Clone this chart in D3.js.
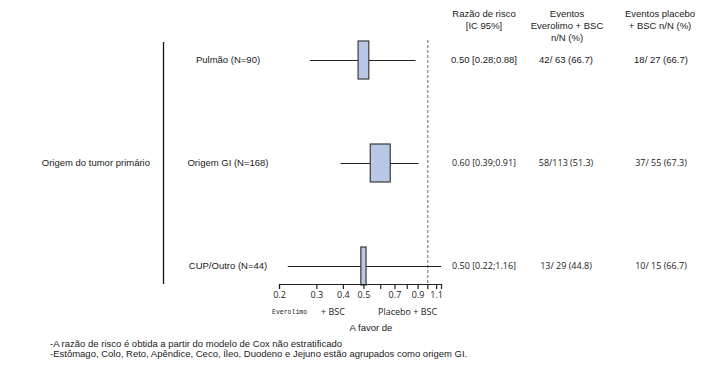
<!DOCTYPE html>
<html>
<head>
<meta charset="utf-8">
<script src="https://cdn.jsdelivr.net/npm/d3@7"></script>
<style>
  body { margin: 0; background: #fff; }
  text { font-family: "Liberation Sans", Arial, sans-serif; fill: #1a1a1a; }
</style>
</head>
<body>
<div id="chart"></div>
<script>
// data
const groups = ["Pulmão (N=90)", "Origem GI (N=168)", "CUP/Outro (N=44)"];
const groupN = [90, 168, 44];
const hazard = [0.50, 0.60, 0.50];
const ciLow = [0.28, 0.39, 0.22];
const ciHigh = [0.88, 0.91, 1.16];
const hrLabels = ["0.50 [0.28;0.88]", "0.60 [0.39;0.91]", "0.50 [0.22;1.16]"];
const everoLabels = ["42/ 63 (66.7)", "58/113 (51.3)", "13/ 29 (44.8)"];
const placeboLabels = ["18/ 27 (66.7)", "37/ 55 (67.3)", "10/ 15 (66.7)"];
const tickValues = [0.2, 0.3, 0.4, 0.5, 0.6, 0.7, 0.8, 0.9, 1.0, 1.1];
const tickLabels = [0.2, 0.3, 0.4, 0.5, 0.7, 0.9, 1.1];

const width = 704, height = 366;

const svg = d3.select("#chart").append("svg")
    .attr("width", width)
    .attr("height", height);

const x = d3.scaleLog().domain([0.2, 1.16]).range([279, 441]);
const y = d3.scalePoint().domain(groups).range([60, 266]);
const boxW = d3.scaleLinear().domain([0, 168]).range([0, 20]);
const boxH = 38;

const rows = groups.map((g, i) => ({
    name: g, n: groupN[i], hr: hazard[i], lo: ciLow[i], hi: ciHigh[i],
    hrText: hrLabels[i], evero: everoLabels[i], plac: placeboLabels[i], idx: i
}));

// left bracket line + group title
svg.append("line")
    .attr("x1", 163.5).attr("x2", 163.5)
    .attr("y1", 42).attr("y2", 284)
    .attr("stroke", "#111").attr("stroke-width", 1.3);

svg.append("text")
    .attr("x", 150).attr("y", 163)
    .attr("dy", "0.35em")
    .attr("text-anchor", "end")
    .style("font-size", "9.5px")
    .text("Origem do tumor primário");

// reference line at HR = 1
svg.append("line")
    .attr("x1", x(1) + 0.5).attr("x2", x(1) + 0.5)
    .attr("y1", 40).attr("y2", 284)
    .attr("stroke", "#666")
    .attr("stroke-dasharray", "3,2");

// column headers
const headers = [
    {cx: 484, lines: ["Razão de risco", "[IC 95%]"]},
    {cx: 567, lines: ["Eventos", "Everolimo + BSC", "n/N (%)"]},
    {cx: 660, lines: ["Eventos placebo", "+ BSC n/N (%)"]}
];
headers.forEach(h => {
    const t = svg.append("text")
        .attr("text-anchor", "middle")
        .style("font-size", "9.5px");
    h.lines.forEach((l, k) => {
        t.append("tspan").attr("x", h.cx).attr("y", 17 + k * 12).text(l);
    });
});

const row = svg.selectAll(".row")
    .data(rows)
    .enter()
    .append("g")
    .attr("class", "row");

// row labels
row.append("text")
    .attr("x", 228)
    .attr("y", d => y(d.name))
    .attr("dy", "0.35em")
    .attr("text-anchor", "middle")
    .style("font-size", "9.5px")
    .text(d => d.name);

// whiskers
row.append("line")
    .attr("x1", d => x(d.lo))
    .attr("x2", d => x(d.hi))
    .attr("y1", d => y(d.name) + 0.5)
    .attr("y2", d => y(d.name) + 0.5)
    .attr("stroke", "#222")
    .attr("stroke-width", 1.2);

// boxes
row.append("rect")
    .attr("x", d => x(d.hr) - boxW(d.n) / 2)
    .attr("y", d => y(d.name) - boxH / 2)
    .attr("width", d => boxW(d.n))
    .attr("height", boxH)
    .attr("fill", "#b7c7e5")
    .attr("stroke", "#3a3a3a")
    .attr("stroke-width", 1.2);

// value columns
const cols = [
    {cx: 484, key: "hrText"},
    {cx: 566, key: "evero"},
    {cx: 661, key: "plac"}
];
cols.forEach(c => {
    row.append("text")
        .attr("x", c.cx)
        .attr("y", d => y(d.name))
        .attr("dy", "0.35em")
        .attr("text-anchor", "middle")
        .style("font-size", "9.5px")
        .style("font-family", d => d.idx === 0 ? "Liberation Sans, Arial, sans-serif" : "Open Sans, sans-serif")
        .style("font-size", d => d.idx === 0 ? "9.5px" : "9px")
        .text(d => d[c.key]);
});

// x axis
const xAxis = d3.axisBottom(x)
    .tickValues(tickValues)
    .tickSize(5)
    .tickSizeOuter(5)
    .tickFormat(d => tickLabels.includes(d) ? d3.format(".1f")(d) : "");

const ax = svg.append("g")
    .attr("transform", "translate(0,284)")
    .call(xAxis);
ax.select(".domain").attr("stroke", "#222").attr("stroke-width", 1.2);
ax.selectAll(".tick line").attr("stroke", "#222").attr("stroke-width", 1.2);
ax.selectAll(".tick text")
    .attr("y", 8)
    .style("font-family", "Open Sans, sans-serif")
    .style("font-size", "9px")
    .attr("fill", "#1a1a1a");

// favour labels
svg.append("text")
    .attr("x", 272).attr("y", 314)
    .style("font-family", "Liberation Mono, monospace")
    .style("font-size", "6.5px")
    .text("Everolimo");
svg.append("text")
    .attr("x", 321).attr("y", 315)
    .style("font-family", "Open Sans, sans-serif")
    .style("font-size", "9px")
    .text("+ BSC");
svg.append("text")
    .attr("x", 378).attr("y", 315)
    .style("font-family", "Open Sans, sans-serif")
    .style("font-size", "9px")
    .text("Placebo + BSC");
svg.append("text")
    .attr("x", 371).attr("y", 331)
    .attr("text-anchor", "middle")
    .style("font-size", "9.5px")
    .text("A favor de");

// footnotes
const notes = [
    "-A razão de risco é obtida a partir do modelo de Cox não estratificado",
    "-Estômago, Colo, Reto, Apêndice, Ceco, Íleo, Duodeno e Jejuno estão agrupados como origem GI."
];
svg.selectAll(".note")
    .data(notes)
    .enter()
    .append("text")
    .attr("class", "note")
    .attr("x", 50)
    .attr("y", (d, i) => 347 + i * 10)
    .style("font-size", "9.5px")
    .text(d => d);
</script>
</body>
</html>
